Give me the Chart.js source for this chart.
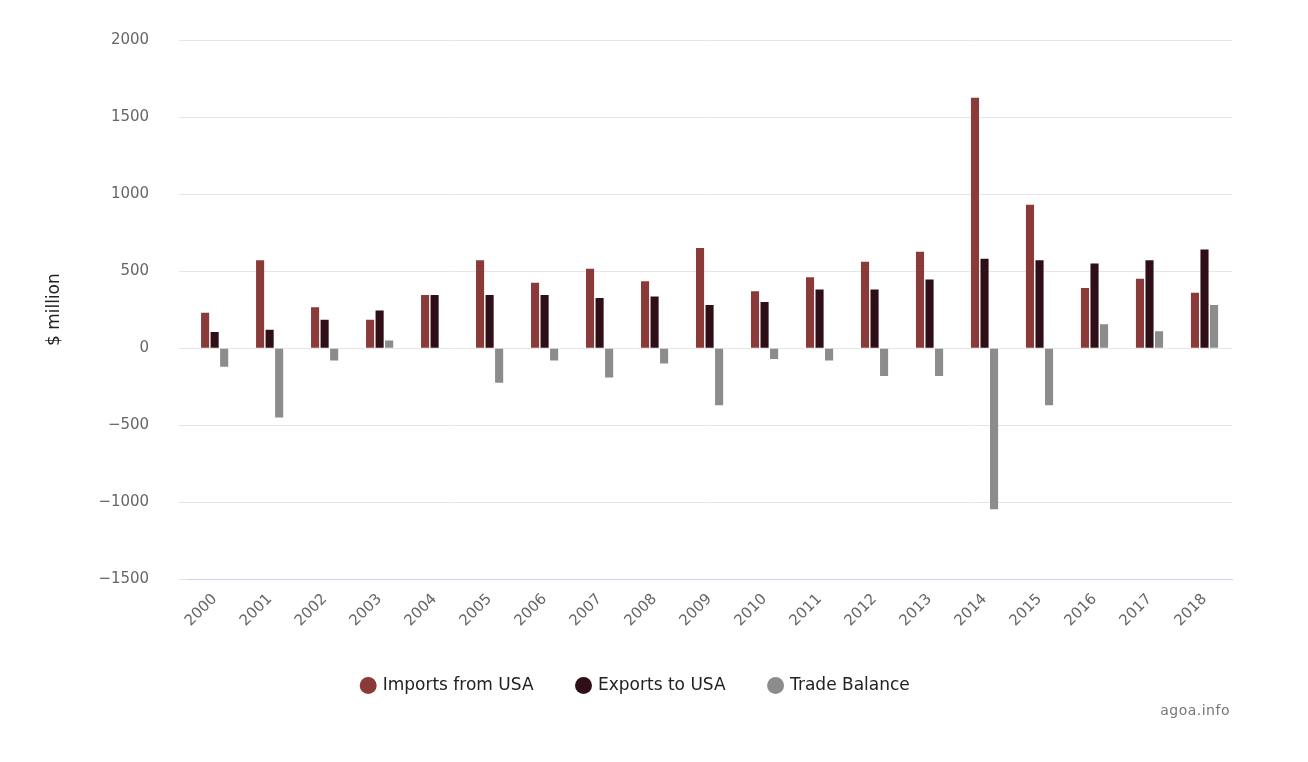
<!DOCTYPE html>
<html><head><meta charset="utf-8">
<script src="https://cdn.jsdelivr.net/npm/chart.js@4"></script>
<style>
body{margin:0;background:#fff;font-family:"DejaVu Sans",sans-serif}
#wrap{position:relative;width:1308px;height:762px}
#credit{position:absolute;right:78px;top:702px;font-size:14px;color:#777;letter-spacing:0.5px}
</style></head><body>
<div id="wrap"><canvas id="c" width="1308" height="762"></canvas><div id="credit">agoa.info</div></div>
<script>
const years = ['2000','2001','2002','2003','2004','2005','2006','2007','2008','2009','2010','2011','2012','2013','2014','2015','2016','2017','2018'];
const importsFromUSA = [230,570,265,185,345,570,425,515,435,650,370,460,560,625,1625,930,390,450,360];
const exportsToUSA = [105,120,185,245,345,345,345,325,335,280,300,380,380,445,580,570,550,570,640];
const tradeBalance = [-120,-450,-80,50,0,-225,-80,-190,-100,-370,-70,-80,-180,-180,-1045,-370,155,110,280];
const fam = "'DejaVu Sans', sans-serif";

new Chart(document.getElementById('c'), {
  type: 'bar',
  data: {
    labels: years,
    datasets: [
      {label:'Imports from USA', data: importsFromUSA, backgroundColor:'#8b3a3a'},
      {label:'Exports to USA', data: exportsToUSA, backgroundColor:'#2e0f17'},
      {label:'Trade Balance', data: tradeBalance, backgroundColor:'#8c8c8c'}
    ]
  },
  options: {
    responsive:false, animation:false,
    layout:{padding:{left:40,right:76,top:40,bottom:58}},
    datasets:{bar:{barPercentage:0.85,categoryPercentage:0.52}},
    plugins:{
      legend:{position:'bottom',labels:{usePointStyle:true,pointStyle:'circle',boxWidth:12,boxHeight:12,padding:44,color:'#222',font:{size:17,family:fam}}},
      tooltip:{enabled:false}
    },
    scales:{
      x:{grid:{display:false},border:{color:'#ccd6eb'},
        ticks:{color:'#666',maxRotation:45,minRotation:45,font:{size:15,family:fam}}},
      y:{min:-1500,max:2000,border:{display:false},grid:{color:'#e6e6e6'},
        ticks:{stepSize:500,color:'#666',padding:30,font:{size:15,family:fam},
          callback:v => v < 0 ? '\u2212' + Math.abs(v) : String(v)},
        title:{display:true,text:'$ million',color:'#222',font:{size:17,family:fam}}}
    }
  }
});
</script></body></html>
